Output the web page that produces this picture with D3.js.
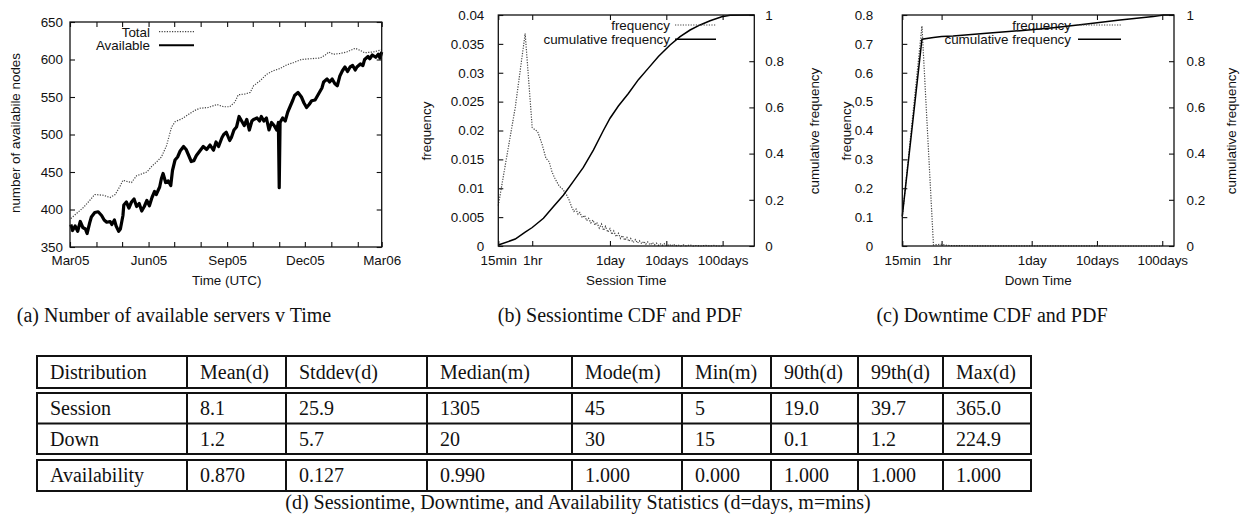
<!DOCTYPE html>
<html><head><meta charset="utf-8">
<script src="https://cdn.jsdelivr.net/npm/d3@7"></script>
<style>
body{margin:0;background:#fff}
svg text{font-family:"Liberation Sans",Arial,sans-serif;fill:#111}
svg text.serif{font-family:"Liberation Serif","Times New Roman",serif}
</style></head><body>
<svg id="fig" width="1251" height="516"></svg>
<script>
// ---- (a) nodes over time: day offsets from 2005-03-01 ----
const totalDay   = [1,8,16,23,29,39,47,53,59,62,68,72,78,90,96,101,107,113,119,123,131,139,146,152,162,172,180,187,193,197,205,211,215,223,230,238,246,254,262,271,281,293,299,303,308,316,324,334,340,345,355,365];
const totalNodes = [388,395,403,412,420,419,416,420,432,439,437,436,445,450,458,463,470,485,510,517,521,527,532,535,536,540,537,537,543,553,554,556,565,572,580,585,588,593,596,600,601,602,606,610,607,608,610,615,612,609,610,613];

const availDay   = [1,3,6,9,12,15,18,20,23,25,29,33,37,40,43,47,49,52,54,57,59,62,63,66,69,72,75,78,81,84,87,90,93,96,99,101,105,107,109,112,115,118,120,123,126,129,133,136,139,142,145,148,152,156,160,164,168,171,174,178,180,183,187,189,192,195,198,201,204,207,210,213,215,219,222,224,227,230,233,236,239,242,244,245,246,249,252,255,258,261,263,267,271,274,277,280,283,287,291,295,297,301,304,307,310,313,316,319,322,325,328,331,334,336,340,343,345,349,351,354,358,361,363,365];
const availNodes = [380,372,378,371,384,376,374,368,382,390,396,397,392,386,383,384,380,386,378,371,374,392,406,410,402,410,414,404,408,398,404,412,405,416,424,420,430,441,448,436,438,432,452,466,470,478,484,480,472,464,465,472,478,484,480,486,479,490,484,496,500,503,492,496,506,510,524,518,512,520,506,518,520,522,518,524,518,522,506,516,512,506,516,429,516,522,518,530,538,546,552,556,550,542,536,540,545,546,554,562,570,574,570,574,568,565,578,585,590,584,590,592,586,590,594,592,600,604,601,606,603,607,602,610];

const nodeTicks    = [350,400,450,500,550,600,650];
const quarterNames = ["Mar05","Jun05","Sep05","Dec05","Mar06"];

// ---- (b) session time, minutes ----
const sessPdfMin = [15,30,45,60,75,90,105,120,135,150,180,210,240,270,
  300,330,360,390,420,465,510,555,600,660,720,780,840,930,1020,1110,1200,1320,1440,1560,1680,1860,2040,2220,2400,2640,2880,3120,3360,3720,4080,4440,4800,5280,5760,6240,6720,7440,8160,8880,9600,10560,11520,12480,13440,14880,16320,17760,19200,21120,23040,25920,28800,33120,37440,43200,50400,57600,72000,86400,100800,115200,129600,144000];
const sessPdf    = [0.0070,0.0240,0.0368,0.0205,0.0198,0.0176,0.0152,0.0146,0.0128,0.0118,0.0104,0.0098,0.0090,0.0080,
  0.0068,0.0060,0.0064,0.0055,0.0058,0.0049,0.0053,0.0044,0.0048,0.0040,0.0045,0.0036,0.0041,0.0031,0.0038,0.0027,0.0034,0.0024,0.0030,0.0020,0.0026,0.0016,0.0022,0.0013,0.0018,0.0010,0.0015,0.0008,0.0013,0.0006,0.0011,0.0005,0.0009,0.0004,0.0008,0.0003,0.0007,0.0002,0.0006,0.0002,0.0005,0.0001,0.0004,0.0001,0.0004,0.0000,0.0003,0.0000,0.0003,0.0000,0.0002,0.0000,0.0002,0.0000,0.0002,0.0000,0.0001,0.0000,0.0001,0.0000,0.0001,0.0000,0.0000,0.0000];
const sessCdfMin = [15,30,45,60,95,142,214,322,485,731,1100,1445,2031,3056,4603,6930,10430,16800,25300,38100,57300,86200,139000,195300,525600];
const sessCdf    = [0.004,0.03,0.06,0.08,0.12,0.17,0.22,0.28,0.34,0.415,0.50,0.553,0.606,0.66,0.72,0.77,0.82,0.87,0.906,0.935,0.957,0.975,0.992,0.999,1.0];

// ---- (c) down time, minutes ----
const downPdfMin = [15,30,45,60,75,90,120,240,1440,14400,144000];
const downPdf    = [0.10,0.762,0.004,0.006,0.002,0.001,0.001,0.0005,0.0002,0.0001,0.0];
const downCdfMin = [15,30,45,60,90,294,954,3084,10000,32400,105000,150000,218000];
const downCdf    = [0.13,0.895,0.903,0.907,0.909,0.921,0.932,0.945,0.961,0.978,0.993,1.0,1.0];

const durTicks  = [15,60,1440,14400,144000];
const durNames  = ["15min","1hr","1day","10days","100days"];
const sessFreqTicks = ["0","0.005","0.01","0.015","0.02","0.025","0.03","0.035","0.04"];
const downFreqTicks = ["0","0.1","0.2","0.3","0.4","0.5","0.6","0.7","0.8"];
const cumTicks  = ["0","0.2","0.4","0.6","0.8","1"];

// ---- (d) statistics table ----
const statHeader = ["Distribution","Mean(d)","Stddev(d)","Median(m)","Mode(m)","Min(m)","90th(d)","99th(d)","Max(d)"];
const statSession = ["Session","8.1","25.9","1305","45","5","19.0","39.7","365.0"];
const statDown    = ["Down","1.2","5.7","20","30","15","0.1","1.2","224.9"];
const statAvail   = ["Availability","0.870","0.127","0.990","1.000","0.000","1.000","1.000","1.000"];

const captions = ["(a)  Number of available servers v Time","(b)  Sessiontime CDF and PDF","(c)  Downtime CDF and PDF",
                  "(d)  Sessiontime, Downtime, and Availability Statistics (d=days, m=mins)"];

const svg = d3.select("#fig");
const FS = 13.4;
const SERIF = 20;
const dotted = {stroke:"#444", "stroke-width":1.2, "stroke-dasharray":"1.2 1.4"};

function styleAxis(g){
  g.select(".domain").remove();
  g.selectAll("line").attr("stroke","#111").attr("stroke-width",1.1);
  g.selectAll("text").attr("font-size",FS).attr("font-family","Liberation Sans, Arial, sans-serif").attr("fill","#111");
}
function frame(x0,x1,y0,y1){
  svg.append("rect").attr("x",x0).attr("y",y0).attr("width",x1-x0).attr("height",y1-y0)
     .attr("fill","none").attr("stroke","#111").attr("stroke-width",1.3);
}
function label(x,y,t,opts={}){
  const el = svg.append("text").attr("x",x).attr("y",y).text(t).attr("font-size",opts.size||FS)
    .attr("text-anchor",opts.anchor||"middle");
  if(opts.rotate) el.attr("transform",`rotate(-90,${x},${y})`);
  if(opts.cls) el.attr("class",opts.cls);
  return el;
}
function applyStyle(sel,st){ for(const k in st) sel.attr(k,st[k]); return sel; }

// ================= (a) =================
{
  const L=70,R=381.7,T=22,B=247;
  const t0 = new Date(2005,2,1);
  const day = d => d3.timeDay.offset(t0,d);
  const x = d3.scaleTime().domain([t0,new Date(2006,2,1)]).range([L,R]);
  const y = d3.scaleLinear().domain([350,650]).range([B,T]);
  const months = d3.timeMonth.range(t0,new Date(2006,2,2));
  const fmt = d3.timeFormat("%b%y");
  svg.append("g").attr("transform",`translate(0,${B})`)
    .call(d3.axisBottom(x).tickValues(months).tickSizeInner(-5).tickSizeOuter(0).tickPadding(8.5)
      .tickFormat(d => quarterNames.includes(fmt(d)) ? fmt(d) : "")).call(styleAxis);
  svg.append("g").attr("transform",`translate(0,${T})`)
    .call(d3.axisTop(x).tickValues(months).tickSizeInner(-5).tickSizeOuter(0).tickFormat("")).call(styleAxis);
  svg.append("g").attr("transform",`translate(${L},0)`)
    .call(d3.axisLeft(y).tickValues(nodeTicks).tickSizeInner(-5).tickSizeOuter(0).tickPadding(7)).call(styleAxis);
  svg.append("g").attr("transform",`translate(${R},0)`)
    .call(d3.axisRight(y).tickValues(nodeTicks).tickSizeInner(-5).tickSizeOuter(0).tickFormat("")).call(styleAxis);

  const line = d3.line().x(d=>x(day(d[0]))).y(d=>y(d[1]));
  applyStyle(svg.append("path").datum(totalDay.map((d,i)=>[d,totalNodes[i]])).attr("d",line).attr("fill","none"),dotted);
  svg.append("path").datum(availDay.map((d,i)=>[d,availNodes[i]])).attr("d",line)
    .attr("fill","none").attr("stroke","#000").attr("stroke-width",3.2).attr("stroke-linejoin","round");
  frame(L,R,T,B);

  label(150,36.5,"Total",{anchor:"end"});
  applyStyle(svg.append("line").attr("x1",159).attr("x2",194).attr("y1",31.7).attr("y2",31.7),dotted);
  label(150,50,"Available",{anchor:"end"});
  svg.append("line").attr("x1",159).attr("x2",194).attr("y1",45.3).attr("y2",45.3).attr("stroke","#000").attr("stroke-width",2);

  label(19.5,133,"number of availabile nodes",{rotate:true});
  label(226.7,285,"Time (UTC)");
}

// ============ (b) and (c) shared drawing ============
function durationPanel(o){
  const {L,R,T,B,maxMin,freqMax,freqLabels,padL,padR,pdfMin,pdf,cdfMin,cdf,legendEnd,sampleX0,sampleX1,yLabelL,yLabelR,xTitle} = o;
  const x = d3.scaleLog().domain([15,maxMin]).range([L,R]);
  const yL = d3.scaleLinear().domain([0,freqMax]).range([B,T]);
  const yR = d3.scaleLinear().domain([0,1]).range([B,T]);
  const freqVals = freqLabels.map(Number);
  const cumVals = cumTicks.map(Number);
  svg.append("g").attr("transform",`translate(0,${B})`)
    .call(d3.axisBottom(x).tickValues(durTicks).tickSizeInner(-5).tickSizeOuter(0).tickPadding(9)
      .tickFormat((d,i)=>durNames[i])).call(styleAxis);
  svg.append("g").attr("transform",`translate(0,${T})`)
    .call(d3.axisTop(x).tickValues(durTicks).tickSizeInner(-5).tickSizeOuter(0).tickFormat("")).call(styleAxis);
  svg.append("g").attr("transform",`translate(${L},0)`)
    .call(d3.axisLeft(yL).tickValues(freqVals).tickSizeInner(-5).tickSizeOuter(0).tickPadding(padL)
      .tickFormat((d,i)=>freqLabels[i])).call(styleAxis);
  svg.append("g").attr("transform",`translate(${R},0)`)
    .call(d3.axisRight(yR).tickValues(cumVals).tickSizeInner(-5).tickSizeOuter(0).tickPadding(padR)
      .tickFormat((d,i)=>cumTicks[i])).call(styleAxis);

  const pdfLine = d3.line().x(d=>x(d[0])).y(d=>yL(d[1]));
  const cdfLine = d3.line().x(d=>x(d[0])).y(d=>yR(d[1]));
  applyStyle(svg.append("path").datum(pdfMin.map((m,i)=>[m,pdf[i]])).attr("d",pdfLine).attr("fill","none"),dotted);
  svg.append("path").datum(cdfMin.map((m,i)=>[m,cdf[i]])).attr("d",cdfLine)
    .attr("fill","none").attr("stroke","#000").attr("stroke-width",1.5);
  frame(L,R,T,B);

  label(legendEnd,29.8,"frequency",{anchor:"end"});
  applyStyle(svg.append("line").attr("x1",sampleX0).attr("x2",sampleX1).attr("y1",25).attr("y2",25),dotted);
  label(legendEnd,43.8,"cumulative frequency",{anchor:"end"});
  svg.append("line").attr("x1",sampleX0).attr("x2",sampleX1).attr("y1",39.3).attr("y2",39.3).attr("stroke","#000").attr("stroke-width",1.5);

  label(yLabelL,131,"frequency",{rotate:true});
  label(yLabelR,131,"cumulative frequency",{rotate:true});
  label((L+R)/2,285,xTitle);
}

durationPanel({L:498.3,R:754.3,T:15,B:246,maxMin:525600,freqMax:0.04,freqLabels:sessFreqTicks,padL:14,padR:11,
  pdfMin:sessPdfMin,pdf:sessPdf,cdfMin:sessCdfMin,cdf:sessCdf,legendEnd:670,sampleX0:675,sampleX1:716,
  yLabelL:431,yLabelR:818.5,xTitle:"Session Time"});
durationPanel({L:902.3,R:1174,T:15,B:246,maxMin:218000,freqMax:0.8,freqLabels:downFreqTicks,padL:29,padR:12.5,
  pdfMin:downPdfMin,pdf:downPdf,cdfMin:downCdfMin,cdf:downCdf,legendEnd:1071,sampleX0:1078,sampleX1:1121,
  yLabelL:851,yLabelR:1236,xTitle:"Down Time"});

// ================= captions =================
label(174,322,captions[0],{cls:"serif",size:SERIF});
label(620,322,captions[1],{cls:"serif",size:SERIF});
label(992,322,captions[2],{cls:"serif",size:SERIF});

// ================= (d) table =================
{
  const colX = [37,187,286,427,572,682,771,858,943,1031];
  const groups = [
    {top:356,bottom:388,rows:[statHeader]},
    {top:393,bottom:454,rows:[statSession,statDown]},
    {top:460,bottom:491,rows:[statAvail]}
  ];
  const tg = svg.append("g");
  groups.forEach(gr=>{
    tg.append("rect").attr("x",colX[0]).attr("y",gr.top).attr("width",colX[9]-colX[0]).attr("height",gr.bottom-gr.top)
      .attr("fill","none").attr("stroke","#111").attr("stroke-width",2);
    colX.slice(1,-1).forEach(cx=>tg.append("line").attr("x1",cx).attr("x2",cx).attr("y1",gr.top).attr("y2",gr.bottom)
      .attr("stroke","#111").attr("stroke-width",2));
    const h = (gr.bottom-gr.top)/gr.rows.length;
    gr.rows.forEach((row,ri)=>{
      if(ri>0) tg.append("line").attr("x1",colX[0]).attr("x2",colX[9]).attr("y1",gr.top+h*ri).attr("y2",gr.top+h*ri)
        .attr("stroke","#111").attr("stroke-width",2);
      row.forEach((cell,ci)=>{
        tg.append("text").attr("class","serif").attr("x",colX[ci]+13).attr("y",gr.top+h*ri+h/2+6.8)
          .attr("font-size",SERIF).text(cell);
      });
    });
  });
  label(578,509,captions[3],{cls:"serif",size:SERIF});
}
</script></body></html>
